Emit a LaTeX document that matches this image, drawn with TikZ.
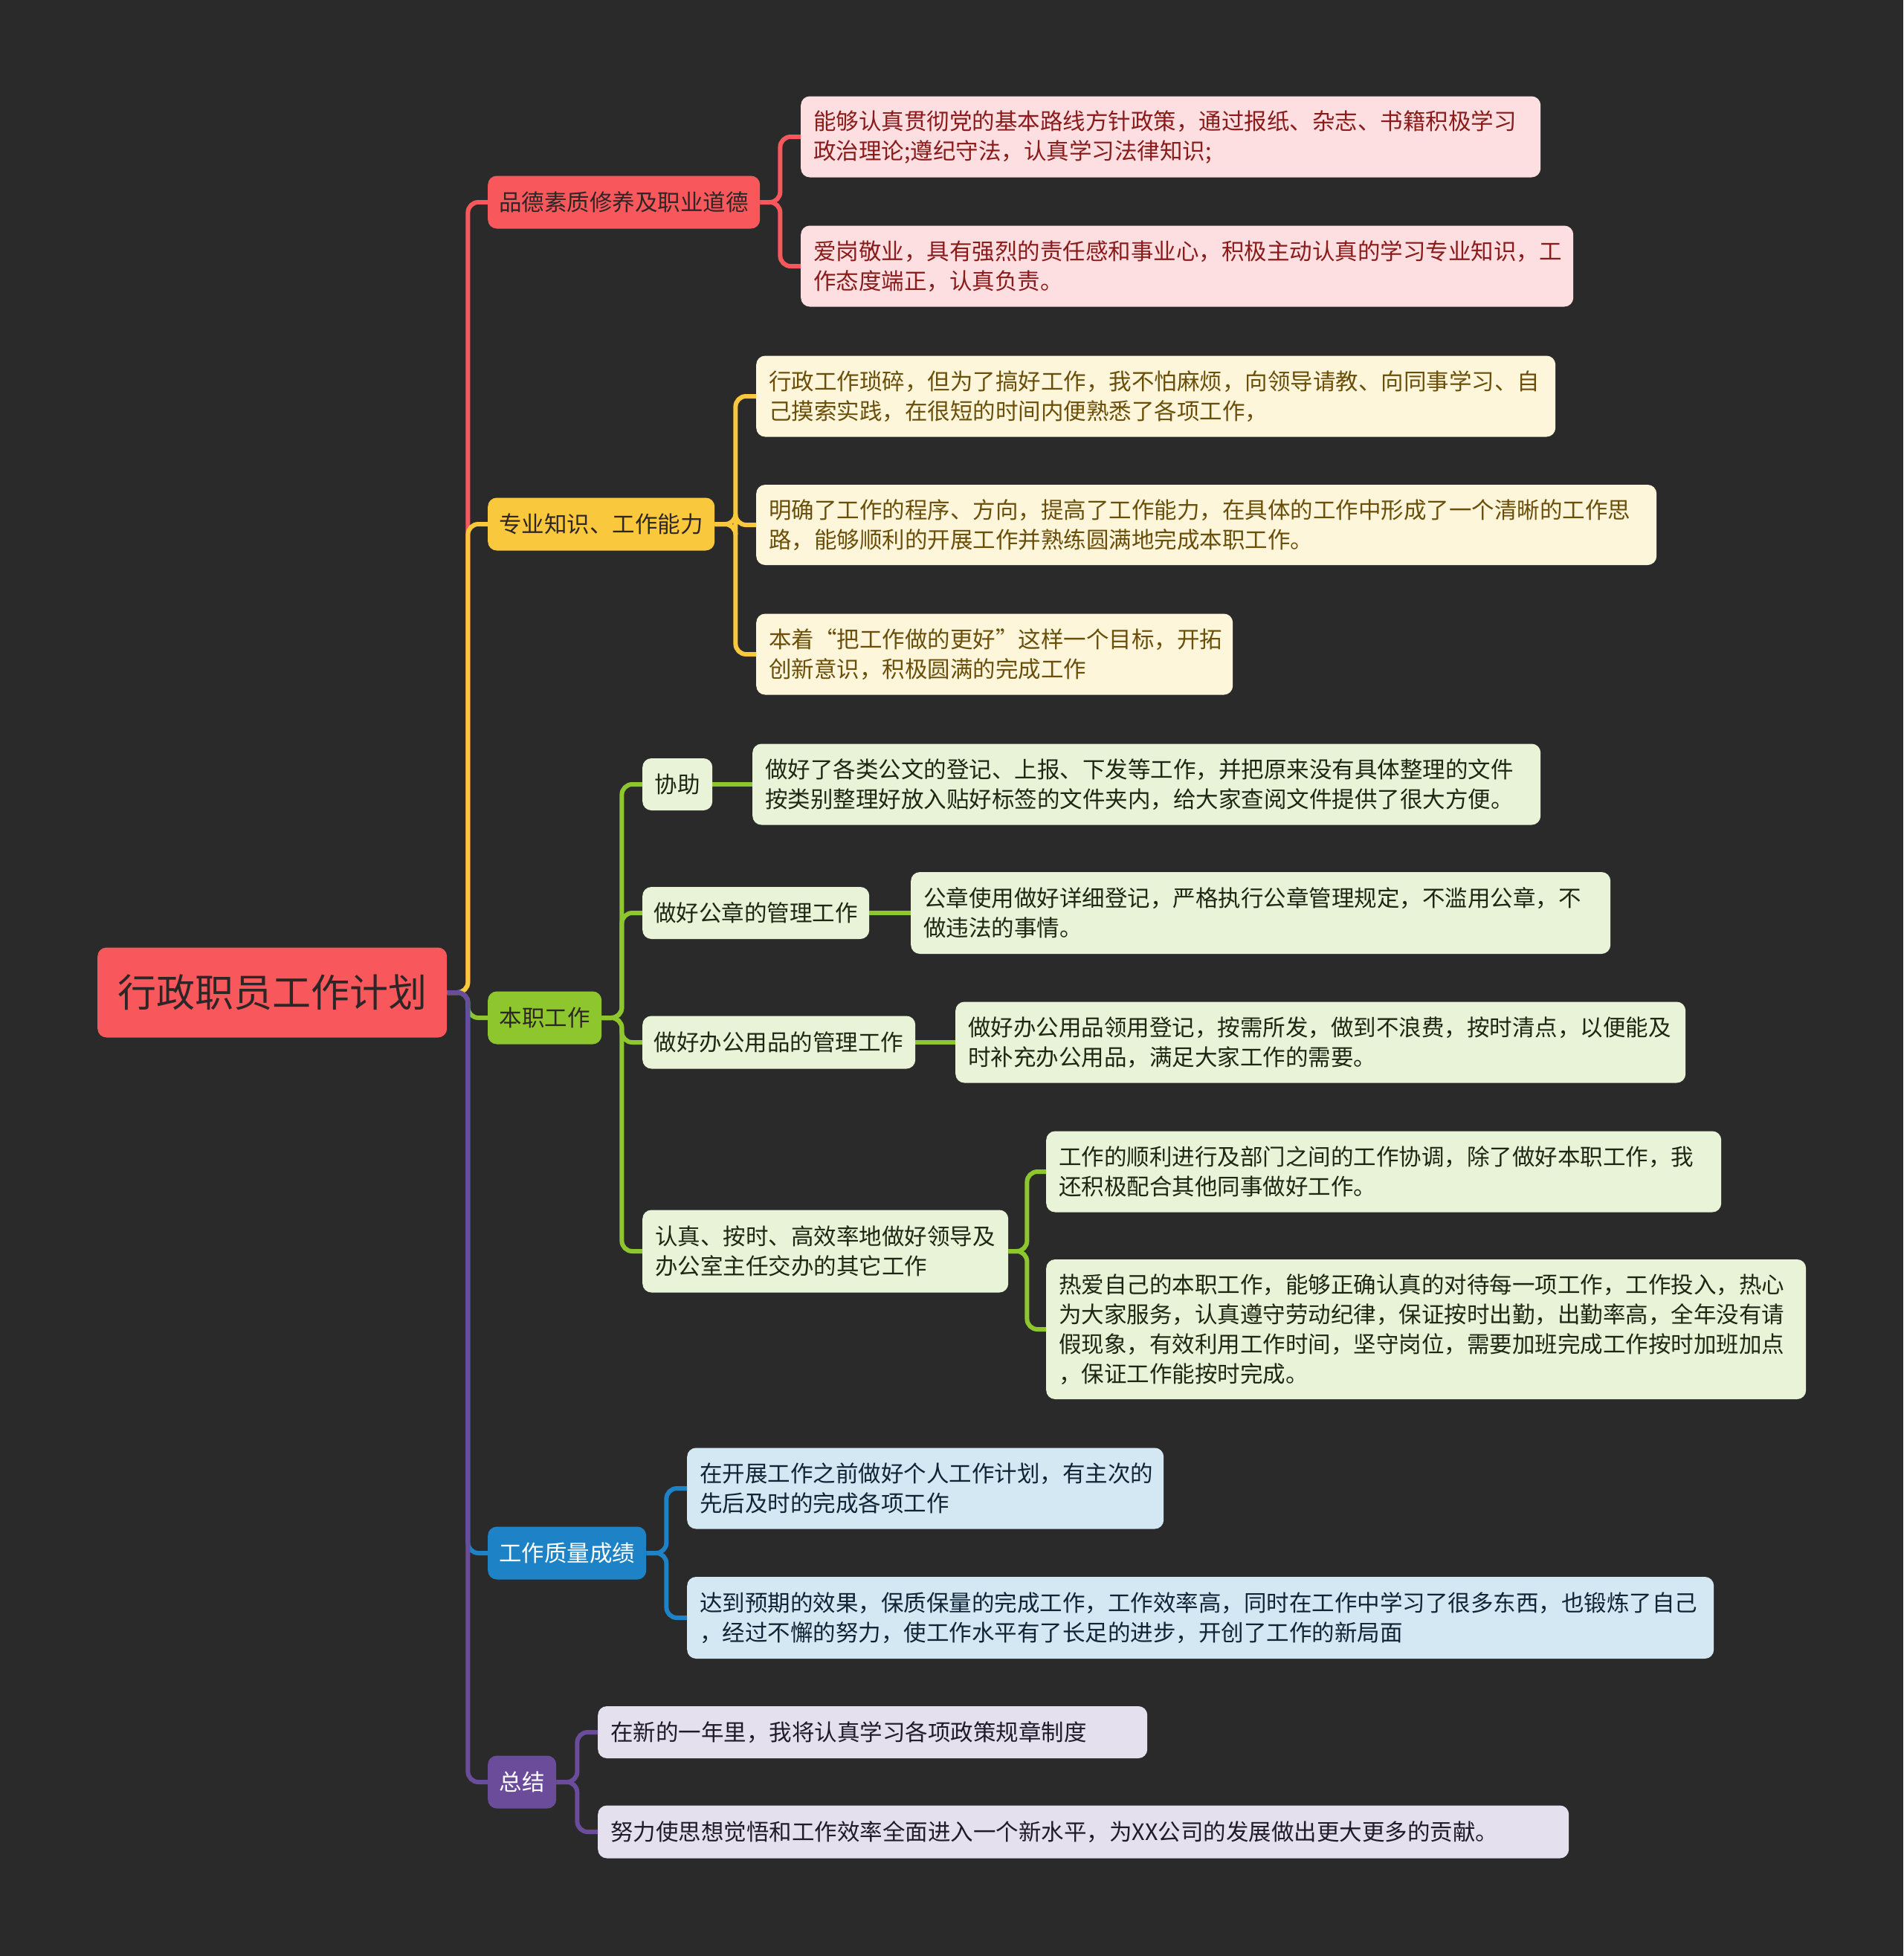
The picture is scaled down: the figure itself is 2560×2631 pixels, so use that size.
\documentclass[tikz,border=0pt]{standalone}
\usepackage{fontspec}
\setmainfont{Noto Sans CJK SC}
\definecolor{bgc}{HTML}{2A2A2A}
\definecolor{cR}{HTML}{F8585C}
\definecolor{cY}{HTML}{FAC83C}
\definecolor{cG}{HTML}{8DC72D}
\definecolor{cB}{HTML}{1E82C6}
\definecolor{cP}{HTML}{6A4C9B}
\definecolor{lR}{HTML}{FDDFE1}
\definecolor{tR}{HTML}{8A1B1B}
\definecolor{lY}{HTML}{FEF6DB}
\definecolor{tY}{HTML}{6A4F0A}
\definecolor{lG}{HTML}{E9F3D7}
\definecolor{tG}{HTML}{1E2614}
\definecolor{lB}{HTML}{D4E8F4}
\definecolor{tB}{HTML}{0F2535}
\definecolor{lP}{HTML}{E4E0EE}
\definecolor{tP}{HTML}{201A2A}
\definecolor{tD}{HTML}{2E2626}
\begin{document}
\begin{tikzpicture}[x=1pt,y=-1pt,
  box/.style={rounded corners=12pt, inner xsep=17pt, inner ysep=0pt, anchor=west, align=left, font=\fontsize{30.5}{40}\selectfont},
  cbox/.style={rounded corners=12pt, inner xsep=0pt, inner ysep=0pt, anchor=west, align=center, font=\fontsize{30.5}{40}\selectfont},
  conn/.style={line width=6pt, rounded corners=14pt}]
\fill[bgc] (0,0) rectangle (2560,2631);
\useasboundingbox (0,0) rectangle (2560,2631);

% root
\node[cbox, fill=cR, text=tD, minimum width=470pt, minimum height=121pt, font=\fontsize{52}{60}\selectfont] (root) at (131,1335) {行政职员工作计划};

% level 1
\node[cbox, fill=cR, text=tD, minimum width=366pt, minimum height=71pt] (p1) at (656,272) {品德素质修养及职业道德};
\node[cbox, fill=cY, text=tD, minimum width=305pt, minimum height=71pt] (p2) at (656,705) {专业知识、工作能力};
\node[cbox, fill=cG, text=tD, minimum width=153pt, minimum height=71pt] (p3) at (656,1369) {本职工作};
\node[cbox, fill=cB, text=white, minimum width=213pt, minimum height=71pt] (p4) at (656,2089) {工作质量成绩};
\node[cbox, fill=cP, text=white, minimum width=92pt, minimum height=71pt] (p5) at (656,2397) {总结};

% red leaves
\node[box, fill=lR, text=tR, text width=961pt, minimum height=109pt] (r1) at (1077,184) {能够认真贯彻党的基本路线方针政策，通过报纸、杂志、书籍积极学习\\政治理论;遵纪守法，认真学习法律知识;};
\node[box, fill=lR, text=tR, text width=1005pt, minimum height=109pt] (r2) at (1077,358) {爱岗敬业，具有强烈的责任感和事业心，积极主动认真的学习专业知识，工\\作态度端正，认真负责。};

% yellow leaves
\node[box, fill=lY, text=tY, text width=1041pt, minimum height=109pt] (y1) at (1017,533) {行政工作琐碎，但为了搞好工作，我不怕麻烦，向领导请教、向同事学习、自\\己摸索实践，在很短的时间内便熟悉了各项工作，};
\node[box, fill=lY, text=tY, text width=1177pt, minimum height=108pt] (y2) at (1017,706) {明确了工作的程序、方向，提高了工作能力，在具体的工作中形成了一个清晰的工作思\\路，能够顺利的开展工作并熟练圆满地完成本职工作。};
\node[box, fill=lY, text=tY, text width=607pt, minimum height=109pt] (y3) at (1017,880) {本着“把工作做的更好”这样一个目标，开拓\\创新意识，积极圆满的完成工作};

% green
\node[cbox, fill=lG, text=tG, minimum width=94pt, minimum height=70pt] (g1) at (864,1055) {协助};
\node[box, fill=lG, text=tG, text width=1026pt, minimum height=109pt] (g1a) at (1012,1055) {做好了各类公文的登记、上报、下发等工作，并把原来没有具体整理的文件\\按类别整理好放入贴好标签的文件夹内，给大家查阅文件提供了很大方便。};
\node[cbox, fill=lG, text=tG, minimum width=305pt, minimum height=70pt] (g2) at (864,1228) {做好公章的管理工作};
\node[box, fill=lG, text=tG, text width=907pt, minimum height=110pt] (g2a) at (1225,1228) {公章使用做好详细登记，严格执行公章管理规定，不滥用公章，不\\做违法的事情。};
\node[cbox, fill=lG, text=tG, minimum width=367pt, minimum height=71pt] (g3) at (864,1402) {做好办公用品的管理工作};
\node[box, fill=lG, text=tG, text width=948pt, minimum height=109pt] (g3a) at (1285,1402) {做好办公用品领用登记，按需所发，做到不浪费，按时清点，以便能及\\时补充办公用品，满足大家工作的需要。};
\node[box, fill=lG, text=tG, text width=458pt, minimum height=111pt] (g4) at (864,1683) {认真、按时、高效率地做好领导及\\办公室主任交办的其它工作};
\node[box, fill=lG, text=tG, text width=874pt, minimum height=109pt] (g4a) at (1407,1576) {工作的顺利进行及部门之间的工作协调，除了做好本职工作，我\\还积极配合其他同事做好工作。};
\node[box, fill=lG, text=tG, text width=988pt, minimum height=188pt] (g4b) at (1407,1788) {热爱自己的本职工作，能够正确认真的对待每一项工作，工作投入，热心\\为大家服务，认真遵守劳动纪律，保证按时出勤，出勤率高，全年没有请\\假现象，有效利用工作时间，坚守岗位，需要加班完成工作按时加班加点\\，保证工作能按时完成。};

% blue
\node[box, fill=lB, text=tB, text width=607pt, minimum height=109pt] (b1) at (924,2002) {在开展工作之前做好个人工作计划，有主次的\\先后及时的完成各项工作};
\node[box, fill=lB, text=tB, text width=1347pt, minimum height=110pt] (b2) at (924,2176) {达到预期的效果，保质保量的完成工作，工作效率高，同时在工作中学习了很多东西，也锻炼了自己\\，经过不懈的努力，使工作水平有了长足的进步，开创了工作的新局面};

% purple
\node[box, fill=lP, text=tP, text width=705pt, minimum height=70pt] (u1) at (804,2330) {在新的一年里，我将认真学习各项政策规章制度};
\node[box, fill=lP, text=tP, text width=1272pt, minimum height=71pt] (u2) at (804,2464) {努力使思想觉悟和工作效率全面进入一个新水平，为XX公司的发展做出更大更多的贡献。};

% root connectors
\draw[conn, cR] (root.east) -- ++(28,0) |- (p1.west);
\draw[conn, cY] (root.east) -- ++(28,0) |- (p2.west);
\draw[conn, cG] (root.east) -- ++(28,0) |- (p3.west);
\draw[conn, cB] (root.east) -- ++(28,0) |- (p4.west);
\draw[conn, cP] (root.east) -- ++(28,0) |- (p5.west);

% level 1 connectors
\draw[conn, cR] (p1.east) -- ++(27,0) |- (r1.west);
\draw[conn, cR] (p1.east) -- ++(27,0) |- (r2.west);
\draw[conn, cY] (p2.east) -- ++(28,0) |- (y1.west);
\draw[conn, cY] (p2.east) -- ++(28,0) |- (y2.west);
\draw[conn, cY] (p2.east) -- ++(28,0) |- (y3.west);
\draw[conn, cG] (p3.east) -- ++(27,0) |- (g1.west);
\draw[conn, cG] (p3.east) -- ++(27,0) |- (g2.west);
\draw[conn, cG] (p3.east) -- ++(27,0) |- (g3.west);
\draw[conn, cG] (p3.east) -- ++(27,0) |- (g4.west);
\draw[conn, cG] (g1.east) -- (g1a.west);
\draw[conn, cG] (g2.east) -- (g2a.west);
\draw[conn, cG] (g3.east) -- (g3a.west);
\draw[conn, cG] (g4.east) -- ++(25,0) |- (g4a.west);
\draw[conn, cG] (g4.east) -- ++(25,0) |- (g4b.west);
\draw[conn, cB] (p4.east) -- ++(27,0) |- (b1.west);
\draw[conn, cB] (p4.east) -- ++(27,0) |- (b2.west);
\draw[conn, cP] (p5.east) -- ++(28,0) |- (u1.west);
\draw[conn, cP] (p5.east) -- ++(28,0) |- (u2.west);
\end{tikzpicture}
\end{document}
